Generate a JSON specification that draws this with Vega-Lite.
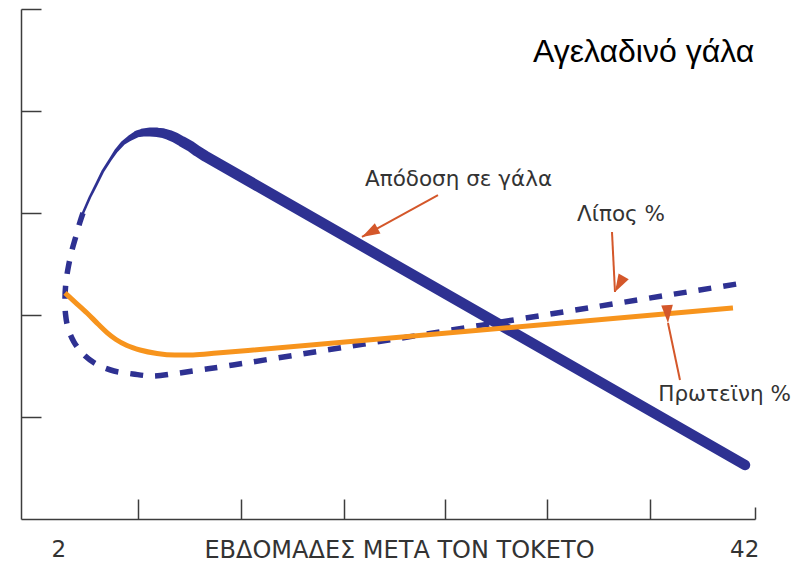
{
  "$schema": "https://vega.github.io/schema/vega-lite/v6.json",
  "width": 734,
  "height": 510,
  "autosize": {"type": "none"},
  "padding": {"left": 21, "top": 9, "right": 45, "bottom": 43},
  "background": "white",
  "config": {"view": {"stroke": null}},
  "datasets": {
    "milk": [
      {"week": 3.415, "value": 3.000}, {"week": 3.619, "value": 3.078}, {"week": 3.823, "value": 3.157},
      {"week": 4.027, "value": 3.225}, {"week": 4.231, "value": 3.294}, {"week": 4.581, "value": 3.412},
      {"week": 4.990, "value": 3.520}, {"week": 5.339, "value": 3.608}, {"week": 5.748, "value": 3.686},
      {"week": 6.156, "value": 3.735}, {"week": 6.564, "value": 3.775}, {"week": 6.914, "value": 3.789},
      {"week": 7.322, "value": 3.794}, {"week": 7.730, "value": 3.791}, {"week": 8.080, "value": 3.784},
      {"week": 8.430, "value": 3.765}, {"week": 8.780, "value": 3.740}, {"week": 9.188, "value": 3.701},
      {"week": 9.654, "value": 3.657}, {"week": 10.062, "value": 3.608}, {"week": 10.529, "value": 3.559},
      {"week": 42.016, "value": 0.529}
    ],
    "fat": [
      {"i": 0, "week": 3.415, "value": 3.000}, {"i": 1, "week": 3.240, "value": 2.912},
      {"i": 2, "week": 3.007, "value": 2.775}, {"i": 3, "week": 2.774, "value": 2.637},
      {"i": 4, "week": 2.570, "value": 2.480}, {"i": 5, "week": 2.424, "value": 2.324},
      {"i": 6, "week": 2.366, "value": 2.167}, {"i": 7, "week": 2.395, "value": 2.010},
      {"i": 8, "week": 2.541, "value": 1.873}, {"i": 9, "week": 2.890, "value": 1.735},
      {"i": 10, "week": 3.473, "value": 1.608}, {"i": 11, "week": 4.231, "value": 1.515},
      {"i": 12, "week": 5.223, "value": 1.451}, {"i": 13, "week": 6.331, "value": 1.422},
      {"i": 14, "week": 7.438, "value": 1.402}, {"i": 15, "week": 8.780, "value": 1.426},
      {"i": 16, "week": 10.237, "value": 1.461}, {"i": 17, "week": 12.162, "value": 1.510},
      {"i": 18, "week": 41.724, "value": 2.309}
    ],
    "protein": [
      {"week": 2.366, "value": 2.216}, {"week": 2.949, "value": 2.127}, {"week": 3.648, "value": 2.020},
      {"week": 4.290, "value": 1.912}, {"week": 4.815, "value": 1.828}, {"week": 5.339, "value": 1.760},
      {"week": 5.981, "value": 1.701}, {"week": 6.739, "value": 1.657}, {"week": 7.730, "value": 1.623},
      {"week": 8.780, "value": 1.608}, {"week": 9.829, "value": 1.608}, {"week": 11.229, "value": 1.627},
      {"week": 13.036, "value": 1.652}, {"week": 41.316, "value": 2.069}
    ],
    "arrows": [
      {"name": "milk", "week": 24.115, "value": 3.176, "week2": 19.683, "value2": 2.765},
      {"name": "fat", "week": 34.261, "value": 2.814, "week2": 34.436, "value2": 2.225},
      {"name": "protein", "week": 38.226, "value": 1.363, "week2": 37.526, "value2": 1.922}
    ],
    "notes": [
      {"text": "Απόδοση σε γάλα", "week": 19.858, "value": 3.265},
      {"text": "Λίπος %", "week": 32.220, "value": 2.922},
      {"text": "Πρωτεϊνη %", "week": 36.960, "value": 1.160}
    ],
    "heading": [
      {"text": "Αγελαδινό γάλα", "week": 29.654, "value": 4.480}
    ],
    "xlabels": [
      {"text": "2", "week": 2, "value": -0.3725},
      {"text": "42", "week": 42, "value": -0.3725}
    ]
  },
  "layer": [
    {
      "data": {"name": "milk"},
      "mark": {"type": "trail", "color": "#2e3192"},
      "encoding": {
        "x": {
          "field": "week", "type": "quantitative",
          "scale": {"domain": [-0.2, 42.6], "nice": false, "zero": false},
          "axis": {
            "title": "ΕΒΔΟΜΑΔΕΣ ΜΕΤΑ ΤΟΝ ΤΟΚΕΤΟ",
            "values": [6.6, 12.6, 18.65, 24.5, 30.5, 36.45, 42.6],
            "labels": false,
            "grid": false,
            "tickSize": {"condition": {"test": "datum.value > 42", "value": -12}, "value": -20},
            "tickColor": "#3c3c3c", "tickWidth": 1.5,
            "domainColor": "#3c3c3c", "domainWidth": 1.5,
            "titleFont": "DejaVu Sans", "titleFontSize": 24, "titleFontWeight": "normal",
            "titleColor": "#333333", "titleX": 378, "titleY": 38,
            "titleBaseline": "alphabetic", "titleAlign": "center"
          }
        },
        "y": {
          "field": "value", "type": "quantitative",
          "scale": {"domain": [0, 5], "nice": false, "zero": false},
          "axis": {
            "title": null,
            "values": [1, 2, 3, 4, 5],
            "labels": false,
            "grid": false,
            "tickSize": -20,
            "tickColor": "#3c3c3c", "tickWidth": 1.5,
            "domainColor": "#3c3c3c", "domainWidth": 1.5
          }
        },
        "size": {
          "field": "week", "type": "quantitative",
          "scale": {"domain": [3.4, 5, 5.75, 6.56, 7.32, 8.78, 10.5, 42.1], "range": [2.5, 3, 4.5, 7, 9, 10.5, 11, 10.5], "zero": false, "nice": false},
          "legend": null
        }
      }
    },
    {
      "data": {"name": "fat"},
      "mark": {"type": "line", "color": "#2e3192", "strokeWidth": 5.5, "strokeDash": [13, 12], "interpolate": "catmull-rom"},
      "encoding": {
        "x": {"field": "week", "type": "quantitative"},
        "y": {"field": "value", "type": "quantitative"},
        "order": {"field": "i", "type": "quantitative"}
      }
    },
    {
      "data": {"name": "protein"},
      "mark": {"type": "line", "color": "#f7941d", "strokeWidth": 5, "interpolate": "monotone"},
      "encoding": {
        "x": {"field": "week", "type": "quantitative"},
        "y": {"field": "value", "type": "quantitative"}
      }
    },
    {
      "data": {"name": "arrows"},
      "mark": {"type": "rule", "color": "#d4572a", "strokeWidth": 2},
      "encoding": {
        "x": {"field": "week", "type": "quantitative"},
        "y": {"field": "value", "type": "quantitative"},
        "x2": {"field": "week2"},
        "y2": {"field": "value2"}
      }
    },
    {
      "data": {"name": "arrows"},
      "mark": {"type": "point", "shape": "M0,0L-0.65,2L0.65,2Z", "filled": true, "color": "#d4572a", "opacity": 1, "size": 320, "strokeWidth": 0},
      "encoding": {
        "x": {"field": "week2", "type": "quantitative"},
        "y": {"field": "value2", "type": "quantitative"},
        "angle": {"field": "name", "type": "nominal", "scale": {"domain": ["milk", "fat", "protein"], "range": [241, 177, 348]}, "legend": null}
      }
    },
    {
      "data": {"name": "notes"},
      "mark": {"type": "text", "font": "DejaVu Sans", "fontSize": 21.5, "color": "#333333", "align": "left", "baseline": "alphabetic"},
      "encoding": {
        "x": {"field": "week", "type": "quantitative"},
        "y": {"field": "value", "type": "quantitative"},
        "text": {"field": "text"}
      }
    },
    {
      "data": {"name": "heading"},
      "mark": {"type": "text", "font": "Liberation Sans", "fontSize": 32, "color": "#000000", "align": "left", "baseline": "alphabetic"},
      "encoding": {
        "x": {"field": "week", "type": "quantitative"},
        "y": {"field": "value", "type": "quantitative"},
        "text": {"field": "text"}
      }
    },
    {
      "data": {"name": "xlabels"},
      "mark": {"type": "text", "font": "DejaVu Sans", "fontSize": 23, "color": "#333333", "align": "center", "baseline": "alphabetic"},
      "encoding": {
        "x": {"field": "week", "type": "quantitative"},
        "y": {"field": "value", "type": "quantitative"},
        "text": {"field": "text"}
      }
    }
  ]
}
